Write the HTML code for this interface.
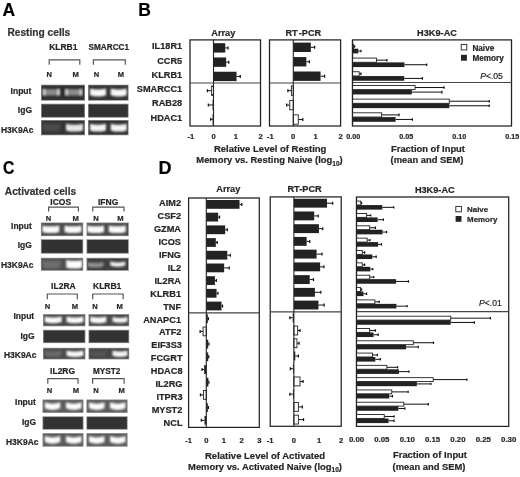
<!DOCTYPE html>
<html><head><meta charset="utf-8"><style>
html,body{margin:0;padding:0;background:#fff;}
svg{display:block;font-family:"Liberation Sans", sans-serif;}
text{stroke-width:0.2px;}
</style></head><body>
<svg width="520" height="477" viewBox="0 0 520 477">
<rect width="520" height="477" fill="#fff"/>
<defs><filter id="bl8" x="-30%" y="-60%" width="160%" height="220%"><feGaussianBlur stdDeviation="0.8"/></filter><filter id="bl9" x="-30%" y="-60%" width="160%" height="220%"><feGaussianBlur stdDeviation="0.9"/></filter><filter id="bl10" x="-30%" y="-60%" width="160%" height="220%"><feGaussianBlur stdDeviation="1.0"/></filter><filter id="bl11" x="-30%" y="-60%" width="160%" height="220%"><feGaussianBlur stdDeviation="1.1"/></filter><filter id="bl12" x="-30%" y="-60%" width="160%" height="220%"><feGaussianBlur stdDeviation="1.2"/></filter><filter id="bl14" x="-30%" y="-60%" width="160%" height="220%"><feGaussianBlur stdDeviation="1.4"/></filter><filter id="bl15" x="-30%" y="-60%" width="160%" height="220%"><feGaussianBlur stdDeviation="1.5"/></filter><filter id="gb" filterUnits="userSpaceOnUse" x="0" y="0" width="520" height="477"><feGaussianBlur stdDeviation="0.45"/></filter></defs>
<g filter="url(#gb)">
<text x="2.6" y="15.8" font-size="17.5" font-weight="bold" text-anchor="start" fill="#000" stroke="#000">A</text>
<text x="138.2" y="15.7" font-size="17.5" font-weight="bold" text-anchor="start" fill="#000" stroke="#000">B</text>
<text x="2.9" y="174.3" font-size="17.5" font-weight="bold" text-anchor="start" fill="#000" stroke="#000" transform="translate(2.9 0) scale(0.9 1) translate(-2.9 0)">C</text>
<text x="158.5" y="174.0" font-size="18" font-weight="bold" text-anchor="start" fill="#000" stroke="#000">D</text>
<text x="7.4" y="36.0" font-size="10.2" font-weight="bold" text-anchor="start" fill="#333" stroke="#333">Resting cells</text>
<text x="63.3" y="50" font-size="8.5" font-weight="bold" text-anchor="middle" fill="#262626" stroke="#262626">KLRB1</text>
<text x="108.8" y="50" font-size="8.2" font-weight="bold" text-anchor="middle" fill="#262626" stroke="#262626">SMARCC1</text>
<path d="M49.2 64.8 V59.9 H79.8 V64.8" fill="none" stroke="#555" stroke-width="1.2"/>
<path d="M93.4 64.8 V59.9 H125.3 V64.8" fill="none" stroke="#555" stroke-width="1.2"/>
<text x="49.2" y="77.4" font-size="7.6" font-weight="bold" text-anchor="middle" fill="#262626" stroke="#262626">N</text>
<text x="75.7" y="77.4" font-size="7.6" font-weight="bold" text-anchor="middle" fill="#262626" stroke="#262626">M</text>
<text x="96.5" y="77.4" font-size="7.6" font-weight="bold" text-anchor="middle" fill="#262626" stroke="#262626">N</text>
<text x="121" y="77.4" font-size="7.6" font-weight="bold" text-anchor="middle" fill="#262626" stroke="#262626">M</text>
<text x="31.4" y="94" font-size="8.5" font-weight="bold" text-anchor="end" fill="#262626" stroke="#262626">Input</text>
<text x="32" y="113" font-size="8.5" font-weight="bold" text-anchor="end" fill="#262626" stroke="#262626">IgG</text>
<text x="33.5" y="133.0" font-size="8.5" font-weight="bold" text-anchor="end" fill="#262626" stroke="#262626">H3K9Ac</text>
<rect x="41.00" y="84.70" width="44.00" height="16.00" fill="#8a8a8a"/>
<clipPath id="g1"><rect x="41.80" y="85.50" width="42.40" height="14.40"/></clipPath>
<rect x="41.80" y="85.50" width="42.40" height="14.40" fill="#2e2e2e"/>
<g clip-path="url(#g1)">
<path d="M42.8 89.0 Q51.3 89.3 59.8 89.0 L59.8 95.4 Q51.3 95.8 42.8 95.4 Z" fill="#8c8c8c" opacity="1" filter="url(#bl8)"/>
<path d="M65.3 89.0 Q73.8 89.3 82.3 89.0 L82.3 95.4 Q73.8 95.8 65.3 95.4 Z" fill="#8c8c8c" opacity="1" filter="url(#bl8)"/>
<path d="M42.9 89.3 Q44.2 89.3 45.5 89.3 L45.5 95.3 Q44.2 95.3 42.9 95.3 Z" fill="#cfcfcf" opacity="1" filter="url(#bl9)"/>
<path d="M57.1 89.3 Q58.4 89.3 59.7 89.3 L59.7 95.3 Q58.4 95.3 57.1 95.3 Z" fill="#cfcfcf" opacity="1" filter="url(#bl9)"/>
<path d="M65.3 89.3 Q66.6 89.3 67.9 89.3 L67.9 95.3 Q66.6 95.3 65.3 95.3 Z" fill="#cfcfcf" opacity="1" filter="url(#bl9)"/>
<path d="M79.5 89.3 Q80.8 89.3 82.1 89.3 L82.1 95.3 Q80.8 95.3 79.5 95.3 Z" fill="#cfcfcf" opacity="1" filter="url(#bl9)"/>
</g>
<rect x="88.00" y="84.70" width="40.60" height="16.00" fill="#8a8a8a"/>
<clipPath id="g2"><rect x="88.80" y="85.50" width="39.00" height="14.40"/></clipPath>
<rect x="88.80" y="85.50" width="39.00" height="14.40" fill="#333333"/>
<g clip-path="url(#g2)">
<path d="M90.0 88.6 Q98.0 90.6 106.0 88.6 L106.0 95.2 Q98.0 97.6 90.0 95.2 Z" fill="#f8f8f8" opacity="1.0" filter="url(#bl10)"/>
<path d="M110.7 88.6 Q118.7 90.6 126.7 88.6 L126.7 95.2 Q118.7 97.6 110.7 95.2 Z" fill="#f8f8f8" opacity="1.0" filter="url(#bl10)"/>
</g>
<rect x="41.00" y="103.70" width="44.00" height="14.00" fill="#8a8a8a"/>
<clipPath id="g3"><rect x="41.80" y="104.50" width="42.40" height="12.40"/></clipPath>
<rect x="41.80" y="104.50" width="42.40" height="12.40" fill="#323232"/>
<g clip-path="url(#g3)">
</g>
<rect x="88.00" y="103.70" width="40.60" height="14.00" fill="#8a8a8a"/>
<clipPath id="g4"><rect x="88.80" y="104.50" width="39.00" height="12.40"/></clipPath>
<rect x="88.80" y="104.50" width="39.00" height="12.40" fill="#323232"/>
<g clip-path="url(#g4)">
</g>
<rect x="41.00" y="120.00" width="44.00" height="15.30" fill="#8a8a8a"/>
<clipPath id="g5"><rect x="41.80" y="120.80" width="42.40" height="13.70"/></clipPath>
<rect x="41.80" y="120.80" width="42.40" height="13.70" fill="#333333"/>
<g clip-path="url(#g5)">
<path d="M42.3 123.0 Q51.3 125.0 60.3 123.0 L60.3 130.6 Q51.3 133.0 42.3 130.6 Z" fill="#4c4c4c" opacity="1.0" filter="url(#bl15)"/>
<path d="M66.0 123.8 Q74.5 125.8 83.0 123.8 L83.0 130.4 Q74.5 132.8 66.0 130.4 Z" fill="#e8e8e8" opacity="1.0" filter="url(#bl12)"/>
</g>
<rect x="88.00" y="120.00" width="40.60" height="15.30" fill="#8a8a8a"/>
<clipPath id="g6"><rect x="88.80" y="120.80" width="39.00" height="13.70"/></clipPath>
<rect x="88.80" y="120.80" width="39.00" height="13.70" fill="#333333"/>
<g clip-path="url(#g6)">
<path d="M90.0 123.8 Q98.0 125.8 106.0 123.8 L106.0 130.4 Q98.0 132.8 90.0 130.4 Z" fill="#f4f4f4" opacity="1.0" filter="url(#bl10)"/>
<path d="M110.7 123.8 Q118.7 125.8 126.7 123.8 L126.7 130.4 Q118.7 132.8 110.7 130.4 Z" fill="#f4f4f4" opacity="1.0" filter="url(#bl10)"/>
</g>
<text x="4.8" y="194.6" font-size="10.2" font-weight="bold" text-anchor="start" fill="#333" stroke="#333">Activated cells</text>
<text x="60.7" y="205.0" font-size="8.5" font-weight="bold" text-anchor="middle" fill="#262626" stroke="#262626">ICOS</text>
<text x="108.1" y="205.0" font-size="8.5" font-weight="bold" text-anchor="middle" fill="#262626" stroke="#262626">IFNG</text>
<path d="M48.6 211.5 V207.2 H78.4 V211.5" fill="none" stroke="#555" stroke-width="1.2"/>
<path d="M92.7 211.5 V207.2 H124.0 V211.5" fill="none" stroke="#555" stroke-width="1.2"/>
<text x="48.5" y="221.3" font-size="7.6" font-weight="bold" text-anchor="middle" fill="#262626" stroke="#262626">N</text>
<text x="75.6" y="221.3" font-size="7.6" font-weight="bold" text-anchor="middle" fill="#262626" stroke="#262626">M</text>
<text x="95.9" y="221.3" font-size="7.6" font-weight="bold" text-anchor="middle" fill="#262626" stroke="#262626">N</text>
<text x="120.4" y="221.3" font-size="7.6" font-weight="bold" text-anchor="middle" fill="#262626" stroke="#262626">M</text>
<text x="31.8" y="228.6" font-size="8.5" font-weight="bold" text-anchor="end" fill="#262626" stroke="#262626">Input</text>
<text x="31.8" y="248.3" font-size="8.5" font-weight="bold" text-anchor="end" fill="#262626" stroke="#262626">IgG</text>
<text x="33.5" y="268.3" font-size="8.5" font-weight="bold" text-anchor="end" fill="#262626" stroke="#262626">H3K9Ac</text>
<rect x="40.90" y="222.50" width="42.30" height="13.60" fill="#8a8a8a"/>
<clipPath id="g7"><rect x="41.70" y="223.30" width="40.70" height="12.00"/></clipPath>
<rect x="41.70" y="223.30" width="40.70" height="12.00" fill="#4a4a4a"/>
<g clip-path="url(#g7)">
<path d="M42.3 225.4 Q50.8 227.3 59.3 225.4 L59.3 231.9 Q50.8 234.3 42.3 231.9 Z" fill="#fafafa" opacity="1.0" filter="url(#bl10)"/>
<path d="M64.5 225.4 Q73.0 227.3 81.5 225.4 L81.5 231.9 Q73.0 234.3 64.5 231.9 Z" fill="#fafafa" opacity="1.0" filter="url(#bl10)"/>
</g>
<rect x="86.50" y="222.50" width="42.30" height="13.60" fill="#8a8a8a"/>
<clipPath id="g8"><rect x="87.30" y="223.30" width="40.70" height="12.00"/></clipPath>
<rect x="87.30" y="223.30" width="40.70" height="12.00" fill="#4a4a4a"/>
<g clip-path="url(#g8)">
<path d="M87.0 225.4 Q95.5 227.3 104.0 225.4 L104.0 231.9 Q95.5 234.3 87.0 231.9 Z" fill="#fafafa" opacity="1.0" filter="url(#bl10)"/>
<path d="M108.8 225.4 Q117.3 227.3 125.8 225.4 L125.8 231.9 Q117.3 234.3 108.8 231.9 Z" fill="#fafafa" opacity="1.0" filter="url(#bl10)"/>
</g>
<rect x="40.90" y="239.20" width="42.30" height="14.50" fill="#8a8a8a"/>
<clipPath id="g9"><rect x="41.70" y="240.00" width="40.70" height="12.90"/></clipPath>
<rect x="41.70" y="240.00" width="40.70" height="12.90" fill="#333333"/>
<g clip-path="url(#g9)">
</g>
<rect x="86.50" y="239.20" width="42.30" height="14.50" fill="#8a8a8a"/>
<clipPath id="g10"><rect x="87.30" y="240.00" width="40.70" height="12.90"/></clipPath>
<rect x="87.30" y="240.00" width="40.70" height="12.90" fill="#333333"/>
<g clip-path="url(#g10)">
</g>
<rect x="40.90" y="257.80" width="42.30" height="13.00" fill="#8a8a8a"/>
<clipPath id="g11"><rect x="41.70" y="258.60" width="40.70" height="11.40"/></clipPath>
<rect x="41.70" y="258.60" width="40.70" height="11.40" fill="#4e4e4e"/>
<g clip-path="url(#g11)">
<path d="M42.5 259.9 Q51.5 261.8 60.5 259.9 L60.5 267.4 Q51.5 269.8 42.5 267.4 Z" fill="#6e6e6e" opacity="1.0" filter="url(#bl15)"/>
<path d="M66.2 259.9 Q74.2 261.8 82.2 259.9 L82.2 267.4 Q74.2 269.8 66.2 267.4 Z" fill="#fcfcfc" opacity="1.0" filter="url(#bl11)"/>
</g>
<rect x="86.50" y="257.80" width="42.30" height="13.00" fill="#8a8a8a"/>
<clipPath id="g12"><rect x="87.30" y="258.60" width="40.70" height="11.40"/></clipPath>
<rect x="87.30" y="258.60" width="40.70" height="11.40" fill="#404040"/>
<g clip-path="url(#g12)">
<path d="M87.5 261.9 Q95.5 263.8 103.5 261.9 L103.5 266.4 Q95.5 268.8 87.5 266.4 Z" fill="#8e8e8e" opacity="1.0" filter="url(#bl10)"/>
<path d="M110.3 261.4 Q117.8 263.4 125.3 261.4 L125.3 265.6 Q117.8 268.0 110.3 265.6 Z" fill="#f2f2f2" opacity="1.0" filter="url(#bl10)"/>
</g>
<text x="63.4" y="288.6" font-size="8.5" font-weight="bold" text-anchor="middle" fill="#262626" stroke="#262626">IL2RA</text>
<text x="107.2" y="288.6" font-size="8.5" font-weight="bold" text-anchor="middle" fill="#262626" stroke="#262626">KLRB1</text>
<path d="M47.3 299.2 V294 H77.3 V299.2" fill="none" stroke="#555" stroke-width="1.2"/>
<path d="M92.7 299.2 V294 H123.1 V299.2" fill="none" stroke="#555" stroke-width="1.2"/>
<text x="47.5" y="309.0" font-size="7.6" font-weight="bold" text-anchor="middle" fill="#262626" stroke="#262626">N</text>
<text x="74.9" y="309.0" font-size="7.6" font-weight="bold" text-anchor="middle" fill="#262626" stroke="#262626">M</text>
<text x="95.1" y="309.0" font-size="7.6" font-weight="bold" text-anchor="middle" fill="#262626" stroke="#262626">N</text>
<text x="119.6" y="309.0" font-size="7.6" font-weight="bold" text-anchor="middle" fill="#262626" stroke="#262626">M</text>
<text x="34.2" y="319.2" font-size="8.5" font-weight="bold" text-anchor="end" fill="#262626" stroke="#262626">Input</text>
<text x="34.6" y="338.6" font-size="8.5" font-weight="bold" text-anchor="end" fill="#262626" stroke="#262626">IgG</text>
<text x="36.5" y="357.8" font-size="8.5" font-weight="bold" text-anchor="end" fill="#262626" stroke="#262626">H3K9Ac</text>
<rect x="43.00" y="314.10" width="42.40" height="12.20" fill="#8a8a8a"/>
<clipPath id="g13"><rect x="43.80" y="314.90" width="40.80" height="10.60"/></clipPath>
<rect x="43.80" y="314.90" width="40.80" height="10.60" fill="#4a4a4a"/>
<g clip-path="url(#g13)">
<path d="M44.7 316.6 Q53.2 318.5 61.7 316.6 L61.7 322.1 Q53.2 324.5 44.7 322.1 Z" fill="#fafafa" opacity="1.0" filter="url(#bl10)"/>
<path d="M66.5 316.6 Q75.0 318.5 83.5 316.6 L83.5 322.1 Q75.0 324.5 66.5 322.1 Z" fill="#fafafa" opacity="1.0" filter="url(#bl10)"/>
</g>
<rect x="88.50" y="314.10" width="40.70" height="12.20" fill="#8a8a8a"/>
<clipPath id="g14"><rect x="89.30" y="314.90" width="39.10" height="10.60"/></clipPath>
<rect x="89.30" y="314.90" width="39.10" height="10.60" fill="#4a4a4a"/>
<g clip-path="url(#g14)">
<path d="M90.3 316.6 Q98.3 318.5 106.3 316.6 L106.3 322.1 Q98.3 324.5 90.3 322.1 Z" fill="#fafafa" opacity="1.0" filter="url(#bl10)"/>
<path d="M112.5 317.1 Q120.0 319.0 127.5 317.1 L127.5 321.6 Q120.0 324.0 112.5 321.6 Z" fill="#f6f6f6" opacity="1.0" filter="url(#bl10)"/>
</g>
<rect x="43.00" y="329.80" width="42.40" height="13.30" fill="#8a8a8a"/>
<clipPath id="g15"><rect x="43.80" y="330.60" width="40.80" height="11.70"/></clipPath>
<rect x="43.80" y="330.60" width="40.80" height="11.70" fill="#333333"/>
<g clip-path="url(#g15)">
</g>
<rect x="88.50" y="329.80" width="40.70" height="13.30" fill="#8a8a8a"/>
<clipPath id="g16"><rect x="89.30" y="330.60" width="39.10" height="11.70"/></clipPath>
<rect x="89.30" y="330.60" width="39.10" height="11.70" fill="#333333"/>
<g clip-path="url(#g16)">
</g>
<rect x="43.00" y="347.80" width="42.40" height="11.60" fill="#8a8a8a"/>
<clipPath id="g17"><rect x="43.80" y="348.60" width="40.80" height="10.00"/></clipPath>
<rect x="43.80" y="348.60" width="40.80" height="10.00" fill="#484848"/>
<g clip-path="url(#g17)">
<path d="M44.7 350.2 Q53.2 352.1 61.7 350.2 L61.7 355.7 Q53.2 358.1 44.7 355.7 Z" fill="#6a6a6a" opacity="1.0" filter="url(#bl14)"/>
<path d="M66.5 350.6 Q75.0 352.6 83.5 350.6 L83.5 355.7 Q75.0 358.1 66.5 355.7 Z" fill="#f6f6f6" opacity="1.0" filter="url(#bl10)"/>
</g>
<rect x="88.50" y="347.80" width="40.70" height="11.60" fill="#8a8a8a"/>
<clipPath id="g18"><rect x="89.30" y="348.60" width="39.10" height="10.00"/></clipPath>
<rect x="89.30" y="348.60" width="39.10" height="10.00" fill="#444444"/>
<g clip-path="url(#g18)">
<path d="M90.3 350.2 Q98.3 352.1 106.3 350.2 L106.3 355.7 Q98.3 358.1 90.3 355.7 Z" fill="#555555" opacity="1.0" filter="url(#bl14)"/>
<path d="M112.5 350.6 Q120.0 352.6 127.5 350.6 L127.5 355.7 Q120.0 358.1 112.5 355.7 Z" fill="#f6f6f6" opacity="1.0" filter="url(#bl10)"/>
</g>
<text x="62.6" y="374.2" font-size="8.5" font-weight="bold" text-anchor="middle" fill="#262626" stroke="#262626">IL2RG</text>
<text x="106.7" y="374.2" font-size="8.2" font-weight="bold" text-anchor="middle" fill="#262626" stroke="#262626">MYST2</text>
<path d="M47.8 383.8 V378.7 H78.0 V383.8" fill="none" stroke="#555" stroke-width="1.2"/>
<path d="M92.6 383.8 V378.7 H124.1 V383.8" fill="none" stroke="#555" stroke-width="1.2"/>
<text x="49.4" y="393.1" font-size="7.6" font-weight="bold" text-anchor="middle" fill="#262626" stroke="#262626">N</text>
<text x="75.9" y="393.1" font-size="7.6" font-weight="bold" text-anchor="middle" fill="#262626" stroke="#262626">M</text>
<text x="96.1" y="393.1" font-size="7.6" font-weight="bold" text-anchor="middle" fill="#262626" stroke="#262626">N</text>
<text x="121.6" y="393.1" font-size="7.6" font-weight="bold" text-anchor="middle" fill="#262626" stroke="#262626">M</text>
<text x="35.8" y="404.8" font-size="8.5" font-weight="bold" text-anchor="end" fill="#262626" stroke="#262626">Input</text>
<text x="36.1" y="425.4" font-size="8.5" font-weight="bold" text-anchor="end" fill="#262626" stroke="#262626">IgG</text>
<text x="38.6" y="444.9" font-size="8.5" font-weight="bold" text-anchor="end" fill="#262626" stroke="#262626">H3K9Ac</text>
<rect x="42.50" y="399.50" width="41.00" height="13.40" fill="#8a8a8a"/>
<clipPath id="g19"><rect x="43.30" y="400.30" width="39.40" height="11.80"/></clipPath>
<rect x="43.30" y="400.30" width="39.40" height="11.80" fill="#5c5c5c"/>
<g clip-path="url(#g19)">
<path d="M44.8 402.2 Q52.5 405.1 60.2 402.2 L60.2 408.2 Q52.5 411.7 44.8 408.2 Z" fill="#fcfcfc" opacity="1" filter="url(#bl9)"/>
<path d="M66.0 402.2 Q73.8 405.1 81.5 402.2 L81.5 408.2 Q73.8 411.7 66.0 408.2 Z" fill="#fcfcfc" opacity="1" filter="url(#bl9)"/>
</g>
<rect x="86.40" y="399.50" width="41.20" height="13.40" fill="#8a8a8a"/>
<clipPath id="g20"><rect x="87.20" y="400.30" width="39.60" height="11.80"/></clipPath>
<rect x="87.20" y="400.30" width="39.60" height="11.80" fill="#5c5c5c"/>
<g clip-path="url(#g20)">
<path d="M89.0 402.2 Q96.8 405.1 104.5 402.2 L104.5 408.2 Q96.8 411.7 89.0 408.2 Z" fill="#fcfcfc" opacity="1" filter="url(#bl9)"/>
<path d="M110.0 402.2 Q117.8 405.1 125.5 402.2 L125.5 408.2 Q117.8 411.7 110.0 408.2 Z" fill="#fcfcfc" opacity="1" filter="url(#bl9)"/>
</g>
<rect x="42.50" y="416.30" width="41.00" height="13.40" fill="#8a8a8a"/>
<clipPath id="g21"><rect x="43.30" y="417.10" width="39.40" height="11.80"/></clipPath>
<rect x="43.30" y="417.10" width="39.40" height="11.80" fill="#303030"/>
<g clip-path="url(#g21)">
</g>
<rect x="86.40" y="416.30" width="41.20" height="13.40" fill="#8a8a8a"/>
<clipPath id="g22"><rect x="87.20" y="417.10" width="39.60" height="11.80"/></clipPath>
<rect x="87.20" y="417.10" width="39.60" height="11.80" fill="#303030"/>
<g clip-path="url(#g22)">
</g>
<rect x="42.50" y="433.10" width="41.00" height="13.60" fill="#8a8a8a"/>
<clipPath id="g23"><rect x="43.30" y="433.90" width="39.40" height="12.00"/></clipPath>
<rect x="43.30" y="433.90" width="39.40" height="12.00" fill="#5c5c5c"/>
<g clip-path="url(#g23)">
<path d="M44.8 436.0 Q52.5 438.9 60.2 436.0 L60.2 442.0 Q52.5 445.5 44.8 442.0 Z" fill="#fcfcfc" opacity="1" filter="url(#bl9)"/>
<path d="M66.0 436.0 Q73.8 438.9 81.5 436.0 L81.5 442.0 Q73.8 445.5 66.0 442.0 Z" fill="#fcfcfc" opacity="1" filter="url(#bl9)"/>
</g>
<rect x="86.40" y="433.10" width="41.20" height="13.60" fill="#8a8a8a"/>
<clipPath id="g24"><rect x="87.20" y="433.90" width="39.60" height="12.00"/></clipPath>
<rect x="87.20" y="433.90" width="39.60" height="12.00" fill="#5c5c5c"/>
<g clip-path="url(#g24)">
<path d="M89.0 436.0 Q96.8 438.9 104.5 436.0 L104.5 442.0 Q96.8 445.5 89.0 442.0 Z" fill="#fcfcfc" opacity="1" filter="url(#bl9)"/>
<path d="M110.0 436.0 Q117.8 438.9 125.5 436.0 L125.5 442.0 Q117.8 445.5 110.0 442.0 Z" fill="#fcfcfc" opacity="1" filter="url(#bl9)"/>
</g>
<text x="182.2" y="49.3" font-size="9.2" font-weight="bold" text-anchor="end" fill="#262626" stroke="#262626">IL18R1</text>
<text x="182.2" y="63.57" font-size="9.2" font-weight="bold" text-anchor="end" fill="#262626" stroke="#262626">CCR5</text>
<text x="182.2" y="77.84" font-size="9.2" font-weight="bold" text-anchor="end" fill="#262626" stroke="#262626">KLRB1</text>
<text x="182.2" y="92.11000000000001" font-size="9.2" font-weight="bold" text-anchor="end" fill="#262626" stroke="#262626">SMARCC1</text>
<text x="182.2" y="106.38" font-size="9.2" font-weight="bold" text-anchor="end" fill="#262626" stroke="#262626">RAB28</text>
<text x="182.2" y="120.65" font-size="9.2" font-weight="bold" text-anchor="end" fill="#262626" stroke="#262626">HDAC1</text>
<rect x="190.00" y="39.90" width="70.50" height="86.10" fill="none" stroke="#222" stroke-width="1.25"/>
<line x1="190.00" y1="83.00" x2="260.50" y2="83.00" stroke="#444" stroke-width="1.2"/>
<line x1="225.25" y1="47.90" x2="228.07" y2="47.90" stroke="#111" stroke-width="1.0"/>
<line x1="228.07" y1="46.40" x2="228.07" y2="49.40" stroke="#111" stroke-width="1.2"/>
<rect x="213.50" y="43.20" width="11.75" height="9.40" fill="#232323"/>
<line x1="226.19" y1="62.17" x2="228.78" y2="62.17" stroke="#111" stroke-width="1.0"/>
<line x1="228.78" y1="60.67" x2="228.78" y2="63.67" stroke="#111" stroke-width="1.2"/>
<rect x="213.50" y="57.47" width="12.69" height="9.40" fill="#232323"/>
<line x1="236.53" y1="76.44" x2="240.29" y2="76.44" stroke="#111" stroke-width="1.0"/>
<line x1="240.29" y1="74.94" x2="240.29" y2="77.94" stroke="#111" stroke-width="1.2"/>
<rect x="213.50" y="71.74" width="23.03" height="9.40" fill="#232323"/>
<line x1="211.62" y1="90.71" x2="207.39" y2="90.71" stroke="#111" stroke-width="1.0"/>
<line x1="207.39" y1="89.21" x2="207.39" y2="92.21" stroke="#111" stroke-width="1.2"/>
<rect x="211.62" y="86.01" width="1.88" height="9.40" fill="#fff" stroke="#222" stroke-width="0.9"/>
<line x1="213.03" y1="104.98" x2="208.33" y2="104.98" stroke="#111" stroke-width="1.0"/>
<line x1="208.33" y1="103.48" x2="208.33" y2="106.48" stroke="#111" stroke-width="1.2"/>
<rect x="213.03" y="100.28" width="0.47" height="9.40" fill="#fff" stroke="#222" stroke-width="0.9"/>
<line x1="213.03" y1="119.25" x2="210.68" y2="119.25" stroke="#111" stroke-width="1.0"/>
<line x1="210.68" y1="117.75" x2="210.68" y2="120.75" stroke="#111" stroke-width="1.2"/>
<rect x="213.03" y="114.55" width="0.47" height="9.40" fill="#fff" stroke="#222" stroke-width="0.9"/>
<line x1="213.50" y1="39.90" x2="213.50" y2="126.00" stroke="#222" stroke-width="1.1"/>
<rect x="269.50" y="39.90" width="71.10" height="86.10" fill="none" stroke="#222" stroke-width="1.25"/>
<line x1="269.50" y1="83.00" x2="340.60" y2="83.00" stroke="#444" stroke-width="1.2"/>
<line x1="310.84" y1="47.30" x2="314.63" y2="47.30" stroke="#111" stroke-width="1.0"/>
<line x1="314.63" y1="45.80" x2="314.63" y2="48.80" stroke="#111" stroke-width="1.2"/>
<rect x="293.30" y="42.60" width="17.54" height="9.40" fill="#232323"/>
<line x1="306.34" y1="61.75" x2="309.42" y2="61.75" stroke="#111" stroke-width="1.0"/>
<line x1="309.42" y1="60.25" x2="309.42" y2="63.25" stroke="#111" stroke-width="1.2"/>
<rect x="293.30" y="57.05" width="13.04" height="9.40" fill="#232323"/>
<line x1="320.56" y1="76.20" x2="324.58" y2="76.20" stroke="#111" stroke-width="1.0"/>
<line x1="324.58" y1="74.70" x2="324.58" y2="77.70" stroke="#111" stroke-width="1.2"/>
<rect x="293.30" y="71.50" width="27.25" height="9.40" fill="#232323"/>
<line x1="291.40" y1="90.65" x2="287.85" y2="90.65" stroke="#111" stroke-width="1.0"/>
<line x1="287.85" y1="89.15" x2="287.85" y2="92.15" stroke="#111" stroke-width="1.2"/>
<rect x="291.40" y="85.95" width="1.90" height="9.40" fill="#fff" stroke="#222" stroke-width="0.9"/>
<line x1="289.75" y1="105.10" x2="286.66" y2="105.10" stroke="#111" stroke-width="1.0"/>
<line x1="286.66" y1="103.60" x2="286.66" y2="106.60" stroke="#111" stroke-width="1.2"/>
<rect x="289.75" y="100.40" width="3.56" height="9.40" fill="#fff" stroke="#222" stroke-width="0.9"/>
<line x1="298.28" y1="119.55" x2="302.78" y2="119.55" stroke="#111" stroke-width="1.0"/>
<line x1="302.78" y1="118.05" x2="302.78" y2="121.05" stroke="#111" stroke-width="1.2"/>
<rect x="293.30" y="114.85" width="4.98" height="9.40" fill="#fff" stroke="#222" stroke-width="0.9"/>
<line x1="293.30" y1="39.90" x2="293.30" y2="126.00" stroke="#222" stroke-width="1.1"/>
<rect x="352.50" y="39.90" width="159.00" height="86.10" fill="none" stroke="#222" stroke-width="1.25"/>
<line x1="352.50" y1="82.50" x2="511.50" y2="82.50" stroke="#444" stroke-width="1.2"/>
<line x1="353.56" y1="46.50" x2="354.62" y2="46.50" stroke="#111" stroke-width="1.0"/>
<line x1="354.62" y1="45.20" x2="354.62" y2="47.80" stroke="#111" stroke-width="1.2"/>
<rect x="352.50" y="44.40" width="1.06" height="4.20" fill="#fff" stroke="#222" stroke-width="0.9"/>
<line x1="358.33" y1="51.05" x2="360.98" y2="51.05" stroke="#111" stroke-width="1.0"/>
<line x1="360.98" y1="49.75" x2="360.98" y2="52.35" stroke="#111" stroke-width="1.2"/>
<rect x="352.50" y="48.70" width="5.83" height="4.70" fill="#232323"/>
<line x1="376.46" y1="60.18" x2="386.95" y2="60.18" stroke="#111" stroke-width="1.0"/>
<line x1="386.95" y1="58.88" x2="386.95" y2="61.48" stroke="#111" stroke-width="1.2"/>
<rect x="352.50" y="58.08" width="23.96" height="4.20" fill="#fff" stroke="#222" stroke-width="0.9"/>
<line x1="404.44" y1="64.73" x2="426.70" y2="64.73" stroke="#111" stroke-width="1.0"/>
<line x1="426.70" y1="63.43" x2="426.70" y2="66.03" stroke="#111" stroke-width="1.2"/>
<rect x="352.50" y="62.38" width="51.94" height="4.70" fill="#232323"/>
<line x1="359.18" y1="73.86" x2="360.98" y2="73.86" stroke="#111" stroke-width="1.0"/>
<line x1="360.98" y1="72.56" x2="360.98" y2="75.16" stroke="#111" stroke-width="1.2"/>
<rect x="352.50" y="71.76" width="6.68" height="4.20" fill="#fff" stroke="#222" stroke-width="0.9"/>
<line x1="404.23" y1="78.41" x2="422.46" y2="78.41" stroke="#111" stroke-width="1.0"/>
<line x1="422.46" y1="77.11" x2="422.46" y2="79.71" stroke="#111" stroke-width="1.2"/>
<rect x="352.50" y="76.06" width="51.73" height="4.70" fill="#232323"/>
<line x1="415.04" y1="87.54" x2="444.08" y2="87.54" stroke="#111" stroke-width="1.0"/>
<line x1="444.08" y1="86.24" x2="444.08" y2="88.84" stroke="#111" stroke-width="1.2"/>
<rect x="352.50" y="85.44" width="62.54" height="4.20" fill="#fff" stroke="#222" stroke-width="0.9"/>
<line x1="411.86" y1="92.09" x2="441.96" y2="92.09" stroke="#111" stroke-width="1.0"/>
<line x1="441.96" y1="90.79" x2="441.96" y2="93.39" stroke="#111" stroke-width="1.2"/>
<rect x="352.50" y="89.74" width="59.36" height="4.70" fill="#232323"/>
<line x1="449.28" y1="101.22" x2="489.24" y2="101.22" stroke="#111" stroke-width="1.0"/>
<line x1="489.24" y1="99.92" x2="489.24" y2="102.52" stroke="#111" stroke-width="1.2"/>
<rect x="352.50" y="99.12" width="96.78" height="4.20" fill="#fff" stroke="#222" stroke-width="0.9"/>
<line x1="449.28" y1="105.77" x2="489.24" y2="105.77" stroke="#111" stroke-width="1.0"/>
<line x1="489.24" y1="104.47" x2="489.24" y2="107.07" stroke="#111" stroke-width="1.2"/>
<rect x="352.50" y="103.42" width="96.78" height="4.70" fill="#232323"/>
<line x1="381.65" y1="114.90" x2="399.03" y2="114.90" stroke="#111" stroke-width="1.0"/>
<line x1="399.03" y1="113.60" x2="399.03" y2="116.20" stroke="#111" stroke-width="1.2"/>
<rect x="352.50" y="112.80" width="29.15" height="4.20" fill="#fff" stroke="#222" stroke-width="0.9"/>
<line x1="395.64" y1="119.45" x2="412.39" y2="119.45" stroke="#111" stroke-width="1.0"/>
<line x1="412.39" y1="118.15" x2="412.39" y2="120.75" stroke="#111" stroke-width="1.2"/>
<rect x="352.50" y="117.10" width="43.14" height="4.70" fill="#232323"/>
<line x1="352.50" y1="39.90" x2="352.50" y2="126.00" stroke="#222" stroke-width="1.1"/>
<rect x="461.20" y="44.40" width="5.60" height="5.60" fill="#fff" stroke="#222" stroke-width="0.9"/>
<rect x="461.00" y="54.80" width="5.90" height="5.90" fill="#222"/>
<text x="472.4" y="50.9" font-size="8.2" font-weight="bold" text-anchor="start" fill="#262626" stroke="#262626">Naive</text>
<text x="472.4" y="60.6" font-size="8.2" font-weight="bold" text-anchor="start" fill="#262626" stroke="#262626">Memory</text>
<text x="480.2" y="79.0" font-size="8.6" font-weight="normal" text-anchor="start" fill="#262626" stroke="#262626"><tspan font-style="italic">P</tspan>&lt;.05</text>
<text x="223.3" y="36.3" font-size="9.2" font-weight="bold" text-anchor="middle" fill="#262626" stroke="#262626">Array</text>
<text x="285.4" y="36.0" font-size="9.2" font-weight="bold" text-anchor="start" fill="#262626" stroke="#262626">RT<tspan dx="1.6">-PCR</tspan></text>
<text x="437.0" y="35.8" font-size="9.2" font-weight="bold" text-anchor="middle" fill="#262626" stroke="#262626">H3K9-AC</text>
<text x="190.8" y="139.3" font-size="7.6" font-weight="bold" text-anchor="middle" fill="#262626" stroke="#262626">-1</text>
<text x="270.3" y="139.3" font-size="7.6" font-weight="bold" text-anchor="middle" fill="#262626" stroke="#262626">-1</text>
<text x="213.5" y="139.3" font-size="7.6" font-weight="bold" text-anchor="middle" fill="#262626" stroke="#262626">0</text>
<text x="293.2" y="139.3" font-size="7.6" font-weight="bold" text-anchor="middle" fill="#262626" stroke="#262626">0</text>
<text x="235.8" y="139.3" font-size="7.6" font-weight="bold" text-anchor="middle" fill="#262626" stroke="#262626">1</text>
<text x="315.70000000000005" y="139.3" font-size="7.6" font-weight="bold" text-anchor="middle" fill="#262626" stroke="#262626">1</text>
<text x="260.5" y="139.3" font-size="7.6" font-weight="bold" text-anchor="middle" fill="#262626" stroke="#262626">2</text>
<text x="340.6" y="139.3" font-size="7.6" font-weight="bold" text-anchor="middle" fill="#262626" stroke="#262626">2</text>
<text x="353.3" y="139.3" font-size="7.2" font-weight="bold" text-anchor="middle" fill="#262626" stroke="#262626">0.00</text>
<text x="406.3" y="139.3" font-size="7.2" font-weight="bold" text-anchor="middle" fill="#262626" stroke="#262626">0.05</text>
<text x="459.3" y="139.3" font-size="7.2" font-weight="bold" text-anchor="middle" fill="#262626" stroke="#262626">0.10</text>
<text x="512.3000000000001" y="139.3" font-size="7.2" font-weight="bold" text-anchor="middle" fill="#262626" stroke="#262626">0.15</text>
<text x="270.2" y="152.1" font-size="9.5" font-weight="bold" text-anchor="middle" fill="#262626" stroke="#262626">Relative Level of Resting</text>
<text x="269.5" y="163.4" font-size="9.4" font-weight="bold" text-anchor="middle" fill="#262626" stroke="#262626">Memory vs. Resting Naive (log<tspan font-size="6.5" dy="2.5">10</tspan><tspan dy="-2.5">)</tspan></text>
<text x="428.0" y="152.0" font-size="9.4" font-weight="bold" text-anchor="middle" fill="#262626" stroke="#262626">Fraction of Input</text>
<text x="427.0" y="163.4" font-size="9.4" font-weight="bold" text-anchor="middle" fill="#262626" stroke="#262626">(mean and SEM)</text>
<text x="181.0" y="206.4" font-size="9.2" font-weight="bold" text-anchor="end" fill="#262626" stroke="#262626">AIM2</text>
<text x="181.0" y="219.3" font-size="9.2" font-weight="bold" text-anchor="end" fill="#262626" stroke="#262626">CSF2</text>
<text x="181.0" y="232.20000000000002" font-size="9.2" font-weight="bold" text-anchor="end" fill="#262626" stroke="#262626">GZMA</text>
<text x="181.0" y="245.10000000000002" font-size="9.2" font-weight="bold" text-anchor="end" fill="#262626" stroke="#262626">ICOS</text>
<text x="181.0" y="258.0" font-size="9.2" font-weight="bold" text-anchor="end" fill="#262626" stroke="#262626">IFNG</text>
<text x="181.0" y="270.9" font-size="9.2" font-weight="bold" text-anchor="end" fill="#262626" stroke="#262626">IL2</text>
<text x="181.0" y="283.8" font-size="9.2" font-weight="bold" text-anchor="end" fill="#262626" stroke="#262626">IL2RA</text>
<text x="181.0" y="296.7" font-size="9.2" font-weight="bold" text-anchor="end" fill="#262626" stroke="#262626">KLRB1</text>
<text x="181.0" y="309.6" font-size="9.2" font-weight="bold" text-anchor="end" fill="#262626" stroke="#262626">TNF</text>
<text x="181.0" y="322.5" font-size="9.2" font-weight="bold" text-anchor="end" fill="#262626" stroke="#262626">ANAPC1</text>
<text x="181.4" y="335.4" font-size="9.2" font-weight="bold" text-anchor="end" fill="#262626" stroke="#262626">ATF2</text>
<text x="181.9" y="348.3" font-size="9.2" font-weight="bold" text-anchor="end" fill="#262626" stroke="#262626">EIF3S3</text>
<text x="182.5" y="361.20000000000005" font-size="9.2" font-weight="bold" text-anchor="end" fill="#262626" stroke="#262626">FCGRT</text>
<text x="182.5" y="374.1" font-size="9.2" font-weight="bold" text-anchor="end" fill="#262626" stroke="#262626">HDAC8</text>
<text x="182.5" y="387.0" font-size="9.2" font-weight="bold" text-anchor="end" fill="#262626" stroke="#262626">IL2RG</text>
<text x="182.5" y="399.9" font-size="9.2" font-weight="bold" text-anchor="end" fill="#262626" stroke="#262626">ITPR3</text>
<text x="182.3" y="412.8" font-size="9.2" font-weight="bold" text-anchor="end" fill="#262626" stroke="#262626">MYST2</text>
<text x="182.5" y="425.70000000000005" font-size="9.2" font-weight="bold" text-anchor="end" fill="#262626" stroke="#262626">NCL</text>
<rect x="188.60" y="198.00" width="70.70" height="229.40" fill="none" stroke="#222" stroke-width="1.25"/>
<line x1="188.60" y1="312.90" x2="259.30" y2="312.90" stroke="#444" stroke-width="1.2"/>
<line x1="239.50" y1="204.40" x2="241.80" y2="204.40" stroke="#111" stroke-width="1.0"/>
<line x1="241.80" y1="202.90" x2="241.80" y2="205.90" stroke="#111" stroke-width="1.2"/>
<rect x="206.28" y="200.00" width="33.23" height="8.80" fill="#232323"/>
<line x1="218.12" y1="217.10" x2="219.53" y2="217.10" stroke="#111" stroke-width="1.0"/>
<line x1="219.53" y1="215.60" x2="219.53" y2="218.60" stroke="#111" stroke-width="1.2"/>
<rect x="206.28" y="212.70" width="11.84" height="8.80" fill="#232323"/>
<line x1="225.19" y1="229.80" x2="227.31" y2="229.80" stroke="#111" stroke-width="1.0"/>
<line x1="227.31" y1="228.30" x2="227.31" y2="231.30" stroke="#111" stroke-width="1.2"/>
<rect x="206.28" y="225.40" width="18.91" height="8.80" fill="#232323"/>
<line x1="215.82" y1="242.50" x2="217.23" y2="242.50" stroke="#111" stroke-width="1.0"/>
<line x1="217.23" y1="241.00" x2="217.23" y2="244.00" stroke="#111" stroke-width="1.2"/>
<rect x="206.28" y="238.10" width="9.54" height="8.80" fill="#232323"/>
<line x1="227.31" y1="255.20" x2="230.31" y2="255.20" stroke="#111" stroke-width="1.0"/>
<line x1="230.31" y1="253.70" x2="230.31" y2="256.70" stroke="#111" stroke-width="1.2"/>
<rect x="206.28" y="250.80" width="21.03" height="8.80" fill="#232323"/>
<line x1="224.13" y1="267.90" x2="229.25" y2="267.90" stroke="#111" stroke-width="1.0"/>
<line x1="229.25" y1="266.40" x2="229.25" y2="269.40" stroke="#111" stroke-width="1.2"/>
<rect x="206.28" y="263.50" width="17.85" height="8.80" fill="#232323"/>
<line x1="214.94" y1="280.60" x2="216.35" y2="280.60" stroke="#111" stroke-width="1.0"/>
<line x1="216.35" y1="279.10" x2="216.35" y2="282.10" stroke="#111" stroke-width="1.2"/>
<rect x="206.28" y="276.20" width="8.66" height="8.80" fill="#232323"/>
<line x1="216.53" y1="293.30" x2="217.94" y2="293.30" stroke="#111" stroke-width="1.0"/>
<line x1="217.94" y1="291.80" x2="217.94" y2="294.80" stroke="#111" stroke-width="1.2"/>
<rect x="206.28" y="288.90" width="10.25" height="8.80" fill="#232323"/>
<line x1="221.48" y1="306.00" x2="222.54" y2="306.00" stroke="#111" stroke-width="1.0"/>
<line x1="222.54" y1="304.50" x2="222.54" y2="307.50" stroke="#111" stroke-width="1.2"/>
<rect x="206.28" y="301.60" width="15.20" height="8.80" fill="#232323"/>
<line x1="207.87" y1="318.70" x2="208.40" y2="318.70" stroke="#111" stroke-width="1.0"/>
<line x1="208.40" y1="317.20" x2="208.40" y2="320.20" stroke="#111" stroke-width="1.2"/>
<rect x="206.28" y="314.30" width="1.59" height="8.80" fill="#232323"/>
<line x1="203.09" y1="331.40" x2="200.09" y2="331.40" stroke="#111" stroke-width="1.0"/>
<line x1="200.09" y1="329.90" x2="200.09" y2="332.90" stroke="#111" stroke-width="1.2"/>
<rect x="203.09" y="327.00" width="3.18" height="8.80" fill="#fff" stroke="#222" stroke-width="0.9"/>
<line x1="208.22" y1="344.10" x2="208.93" y2="344.10" stroke="#111" stroke-width="1.0"/>
<line x1="208.93" y1="342.60" x2="208.93" y2="345.60" stroke="#111" stroke-width="1.2"/>
<rect x="206.28" y="339.70" width="1.94" height="8.80" fill="#232323"/>
<line x1="208.22" y1="356.80" x2="208.75" y2="356.80" stroke="#111" stroke-width="1.0"/>
<line x1="208.75" y1="355.30" x2="208.75" y2="358.30" stroke="#111" stroke-width="1.2"/>
<rect x="206.28" y="352.40" width="1.94" height="8.80" fill="#232323"/>
<line x1="204.15" y1="369.50" x2="202.03" y2="369.50" stroke="#111" stroke-width="1.0"/>
<line x1="202.03" y1="368.00" x2="202.03" y2="371.00" stroke="#111" stroke-width="1.2"/>
<rect x="204.15" y="365.10" width="2.12" height="8.80" fill="#232323"/>
<line x1="208.40" y1="382.20" x2="208.93" y2="382.20" stroke="#111" stroke-width="1.0"/>
<line x1="208.93" y1="380.70" x2="208.93" y2="383.70" stroke="#111" stroke-width="1.2"/>
<rect x="206.28" y="377.80" width="2.12" height="8.80" fill="#232323"/>
<line x1="203.45" y1="394.90" x2="200.44" y2="394.90" stroke="#111" stroke-width="1.0"/>
<line x1="200.44" y1="393.40" x2="200.44" y2="396.40" stroke="#111" stroke-width="1.2"/>
<rect x="203.45" y="390.50" width="2.83" height="8.80" fill="#fff" stroke="#222" stroke-width="0.9"/>
<line x1="207.87" y1="407.60" x2="208.40" y2="407.60" stroke="#111" stroke-width="1.0"/>
<line x1="208.40" y1="406.10" x2="208.40" y2="409.10" stroke="#111" stroke-width="1.2"/>
<rect x="206.28" y="403.20" width="1.59" height="8.80" fill="#232323"/>
<line x1="204.51" y1="420.30" x2="201.33" y2="420.30" stroke="#111" stroke-width="1.0"/>
<line x1="201.33" y1="418.80" x2="201.33" y2="421.80" stroke="#111" stroke-width="1.2"/>
<rect x="204.51" y="415.90" width="1.77" height="8.80" fill="#232323"/>
<line x1="206.28" y1="198.00" x2="206.28" y2="427.40" stroke="#222" stroke-width="1.1"/>
<rect x="270.20" y="196.90" width="71.00" height="229.40" fill="none" stroke="#222" stroke-width="1.25"/>
<line x1="270.20" y1="311.90" x2="341.20" y2="311.90" stroke="#444" stroke-width="1.2"/>
<line x1="327.00" y1="203.20" x2="332.68" y2="203.20" stroke="#111" stroke-width="1.0"/>
<line x1="332.68" y1="201.70" x2="332.68" y2="204.70" stroke="#111" stroke-width="1.2"/>
<rect x="293.87" y="198.75" width="33.13" height="8.90" fill="#232323"/>
<line x1="314.22" y1="215.93" x2="318.24" y2="215.93" stroke="#111" stroke-width="1.0"/>
<line x1="318.24" y1="214.43" x2="318.24" y2="217.43" stroke="#111" stroke-width="1.2"/>
<rect x="293.87" y="211.48" width="20.35" height="8.90" fill="#232323"/>
<line x1="318.95" y1="228.66" x2="322.74" y2="228.66" stroke="#111" stroke-width="1.0"/>
<line x1="322.74" y1="227.16" x2="322.74" y2="230.16" stroke="#111" stroke-width="1.2"/>
<rect x="293.87" y="224.21" width="25.09" height="8.90" fill="#232323"/>
<line x1="306.65" y1="241.39" x2="309.72" y2="241.39" stroke="#111" stroke-width="1.0"/>
<line x1="309.72" y1="239.89" x2="309.72" y2="242.89" stroke="#111" stroke-width="1.2"/>
<rect x="293.87" y="236.94" width="12.78" height="8.90" fill="#232323"/>
<line x1="316.59" y1="254.12" x2="322.03" y2="254.12" stroke="#111" stroke-width="1.0"/>
<line x1="322.03" y1="252.62" x2="322.03" y2="255.62" stroke="#111" stroke-width="1.2"/>
<rect x="293.87" y="249.67" width="22.72" height="8.90" fill="#232323"/>
<line x1="320.14" y1="266.85" x2="323.92" y2="266.85" stroke="#111" stroke-width="1.0"/>
<line x1="323.92" y1="265.35" x2="323.92" y2="268.35" stroke="#111" stroke-width="1.2"/>
<rect x="293.87" y="262.40" width="26.27" height="8.90" fill="#232323"/>
<line x1="309.72" y1="279.58" x2="313.51" y2="279.58" stroke="#111" stroke-width="1.0"/>
<line x1="313.51" y1="278.08" x2="313.51" y2="281.08" stroke="#111" stroke-width="1.2"/>
<rect x="293.87" y="275.13" width="15.86" height="8.90" fill="#232323"/>
<line x1="314.93" y1="292.31" x2="320.85" y2="292.31" stroke="#111" stroke-width="1.0"/>
<line x1="320.85" y1="290.81" x2="320.85" y2="293.81" stroke="#111" stroke-width="1.2"/>
<rect x="293.87" y="287.86" width="21.06" height="8.90" fill="#232323"/>
<line x1="318.48" y1="305.04" x2="324.16" y2="305.04" stroke="#111" stroke-width="1.0"/>
<line x1="324.16" y1="303.54" x2="324.16" y2="306.54" stroke="#111" stroke-width="1.2"/>
<rect x="293.87" y="300.59" width="24.61" height="8.90" fill="#232323"/>
<line x1="292.68" y1="317.77" x2="289.84" y2="317.77" stroke="#111" stroke-width="1.0"/>
<line x1="289.84" y1="316.27" x2="289.84" y2="319.27" stroke="#111" stroke-width="1.2"/>
<rect x="292.68" y="313.32" width="1.18" height="8.90" fill="#232323"/>
<line x1="297.65" y1="330.50" x2="300.02" y2="330.50" stroke="#111" stroke-width="1.0"/>
<line x1="300.02" y1="329.00" x2="300.02" y2="332.00" stroke="#111" stroke-width="1.2"/>
<rect x="293.87" y="326.05" width="3.79" height="8.90" fill="#fff" stroke="#222" stroke-width="0.9"/>
<line x1="296.94" y1="343.23" x2="299.07" y2="343.23" stroke="#111" stroke-width="1.0"/>
<line x1="299.07" y1="341.73" x2="299.07" y2="344.73" stroke="#111" stroke-width="1.2"/>
<rect x="293.87" y="338.78" width="3.08" height="8.90" fill="#fff" stroke="#222" stroke-width="0.9"/>
<line x1="295.29" y1="355.96" x2="298.36" y2="355.96" stroke="#111" stroke-width="1.0"/>
<line x1="298.36" y1="354.46" x2="298.36" y2="357.46" stroke="#111" stroke-width="1.2"/>
<rect x="293.87" y="351.51" width="1.42" height="8.90" fill="#232323"/>
<line x1="292.92" y1="368.69" x2="290.32" y2="368.69" stroke="#111" stroke-width="1.0"/>
<line x1="290.32" y1="367.19" x2="290.32" y2="370.19" stroke="#111" stroke-width="1.2"/>
<rect x="292.92" y="364.24" width="0.95" height="8.90" fill="#232323"/>
<line x1="300.02" y1="381.42" x2="303.10" y2="381.42" stroke="#111" stroke-width="1.0"/>
<line x1="303.10" y1="379.92" x2="303.10" y2="382.92" stroke="#111" stroke-width="1.2"/>
<rect x="293.87" y="376.97" width="6.15" height="8.90" fill="#fff" stroke="#222" stroke-width="0.9"/>
<line x1="292.92" y1="394.15" x2="289.84" y2="394.15" stroke="#111" stroke-width="1.0"/>
<line x1="289.84" y1="392.65" x2="289.84" y2="395.65" stroke="#111" stroke-width="1.2"/>
<rect x="292.92" y="389.70" width="0.95" height="8.90" fill="#232323"/>
<line x1="298.36" y1="406.88" x2="302.39" y2="406.88" stroke="#111" stroke-width="1.0"/>
<line x1="302.39" y1="405.38" x2="302.39" y2="408.38" stroke="#111" stroke-width="1.2"/>
<rect x="293.87" y="402.43" width="4.50" height="8.90" fill="#fff" stroke="#222" stroke-width="0.9"/>
<line x1="298.36" y1="419.61" x2="303.57" y2="419.61" stroke="#111" stroke-width="1.0"/>
<line x1="303.57" y1="418.11" x2="303.57" y2="421.11" stroke="#111" stroke-width="1.2"/>
<rect x="293.87" y="415.16" width="4.50" height="8.90" fill="#fff" stroke="#222" stroke-width="0.9"/>
<line x1="293.87" y1="196.90" x2="293.87" y2="426.30" stroke="#222" stroke-width="1.1"/>
<rect x="356.50" y="197.00" width="152.20" height="229.40" fill="none" stroke="#222" stroke-width="1.25"/>
<line x1="356.50" y1="311.60" x2="508.70" y2="311.60" stroke="#444" stroke-width="1.2"/>
<line x1="360.81" y1="203.05" x2="361.57" y2="203.05" stroke="#111" stroke-width="1.0"/>
<line x1="361.57" y1="201.85" x2="361.57" y2="204.25" stroke="#111" stroke-width="1.2"/>
<rect x="356.50" y="201.10" width="4.31" height="3.90" fill="#fff" stroke="#222" stroke-width="0.9"/>
<line x1="382.27" y1="207.35" x2="393.74" y2="207.35" stroke="#111" stroke-width="1.0"/>
<line x1="393.74" y1="206.15" x2="393.74" y2="208.55" stroke="#111" stroke-width="1.2"/>
<rect x="356.50" y="205.05" width="25.77" height="4.60" fill="#232323"/>
<line x1="366.60" y1="215.40" x2="370.76" y2="215.40" stroke="#111" stroke-width="1.0"/>
<line x1="370.76" y1="214.20" x2="370.76" y2="216.60" stroke="#111" stroke-width="1.2"/>
<rect x="356.50" y="213.45" width="10.10" height="3.90" fill="#fff" stroke="#222" stroke-width="0.9"/>
<line x1="377.66" y1="219.70" x2="383.44" y2="219.70" stroke="#111" stroke-width="1.0"/>
<line x1="383.44" y1="218.50" x2="383.44" y2="220.90" stroke="#111" stroke-width="1.2"/>
<rect x="356.50" y="217.40" width="21.16" height="4.60" fill="#232323"/>
<line x1="369.69" y1="227.75" x2="375.37" y2="227.75" stroke="#111" stroke-width="1.0"/>
<line x1="375.37" y1="226.55" x2="375.37" y2="228.95" stroke="#111" stroke-width="1.2"/>
<rect x="356.50" y="225.80" width="13.19" height="3.90" fill="#fff" stroke="#222" stroke-width="0.9"/>
<line x1="382.58" y1="232.05" x2="386.58" y2="232.05" stroke="#111" stroke-width="1.0"/>
<line x1="386.58" y1="230.85" x2="386.58" y2="233.25" stroke="#111" stroke-width="1.2"/>
<rect x="356.50" y="229.75" width="26.08" height="4.60" fill="#232323"/>
<line x1="367.15" y1="240.10" x2="370.00" y2="240.10" stroke="#111" stroke-width="1.0"/>
<line x1="370.00" y1="238.90" x2="370.00" y2="241.30" stroke="#111" stroke-width="1.2"/>
<rect x="356.50" y="238.15" width="10.65" height="3.90" fill="#fff" stroke="#222" stroke-width="0.9"/>
<line x1="378.16" y1="244.40" x2="381.46" y2="244.40" stroke="#111" stroke-width="1.0"/>
<line x1="381.46" y1="243.20" x2="381.46" y2="245.60" stroke="#111" stroke-width="1.2"/>
<rect x="356.50" y="242.10" width="21.66" height="4.60" fill="#232323"/>
<line x1="362.28" y1="252.45" x2="364.62" y2="252.45" stroke="#111" stroke-width="1.0"/>
<line x1="364.62" y1="251.25" x2="364.62" y2="253.65" stroke="#111" stroke-width="1.2"/>
<rect x="356.50" y="250.50" width="5.78" height="3.90" fill="#fff" stroke="#222" stroke-width="0.9"/>
<line x1="372.28" y1="256.75" x2="376.18" y2="256.75" stroke="#111" stroke-width="1.0"/>
<line x1="376.18" y1="255.55" x2="376.18" y2="257.95" stroke="#111" stroke-width="1.2"/>
<rect x="356.50" y="254.45" width="15.78" height="4.60" fill="#232323"/>
<line x1="362.28" y1="264.80" x2="364.62" y2="264.80" stroke="#111" stroke-width="1.0"/>
<line x1="364.62" y1="263.60" x2="364.62" y2="266.00" stroke="#111" stroke-width="1.2"/>
<rect x="356.50" y="262.85" width="5.78" height="3.90" fill="#fff" stroke="#222" stroke-width="0.9"/>
<line x1="370.30" y1="269.10" x2="372.73" y2="269.10" stroke="#111" stroke-width="1.0"/>
<line x1="372.73" y1="267.90" x2="372.73" y2="270.30" stroke="#111" stroke-width="1.2"/>
<rect x="356.50" y="266.80" width="13.80" height="4.60" fill="#232323"/>
<line x1="369.69" y1="277.15" x2="373.75" y2="277.15" stroke="#111" stroke-width="1.0"/>
<line x1="373.75" y1="275.95" x2="373.75" y2="278.35" stroke="#111" stroke-width="1.2"/>
<rect x="356.50" y="275.20" width="13.19" height="3.90" fill="#fff" stroke="#222" stroke-width="0.9"/>
<line x1="396.12" y1="281.45" x2="408.45" y2="281.45" stroke="#111" stroke-width="1.0"/>
<line x1="408.45" y1="280.25" x2="408.45" y2="282.65" stroke="#111" stroke-width="1.2"/>
<rect x="356.50" y="279.15" width="39.62" height="4.60" fill="#232323"/>
<line x1="360.51" y1="289.50" x2="361.57" y2="289.50" stroke="#111" stroke-width="1.0"/>
<line x1="361.57" y1="288.30" x2="361.57" y2="290.70" stroke="#111" stroke-width="1.2"/>
<rect x="356.50" y="287.55" width="4.01" height="3.90" fill="#fff" stroke="#222" stroke-width="0.9"/>
<line x1="363.50" y1="293.80" x2="366.60" y2="293.80" stroke="#111" stroke-width="1.0"/>
<line x1="366.60" y1="292.60" x2="366.60" y2="295.00" stroke="#111" stroke-width="1.2"/>
<rect x="356.50" y="291.50" width="7.00" height="4.60" fill="#232323"/>
<line x1="374.87" y1="301.85" x2="379.18" y2="301.85" stroke="#111" stroke-width="1.0"/>
<line x1="379.18" y1="300.65" x2="379.18" y2="303.05" stroke="#111" stroke-width="1.2"/>
<rect x="356.50" y="299.90" width="18.37" height="3.90" fill="#fff" stroke="#222" stroke-width="0.9"/>
<line x1="396.43" y1="306.15" x2="407.13" y2="306.15" stroke="#111" stroke-width="1.0"/>
<line x1="407.13" y1="304.95" x2="407.13" y2="307.35" stroke="#111" stroke-width="1.2"/>
<rect x="356.50" y="303.85" width="39.93" height="4.60" fill="#232323"/>
<line x1="450.76" y1="318.15" x2="490.44" y2="318.15" stroke="#111" stroke-width="1.0"/>
<line x1="490.44" y1="316.95" x2="490.44" y2="319.35" stroke="#111" stroke-width="1.2"/>
<rect x="356.50" y="316.20" width="94.26" height="3.90" fill="#fff" stroke="#222" stroke-width="0.9"/>
<line x1="450.76" y1="322.45" x2="474.35" y2="322.45" stroke="#111" stroke-width="1.0"/>
<line x1="474.35" y1="321.25" x2="474.35" y2="323.65" stroke="#111" stroke-width="1.2"/>
<rect x="356.50" y="320.15" width="94.26" height="4.60" fill="#232323"/>
<line x1="369.59" y1="330.44" x2="375.37" y2="330.44" stroke="#111" stroke-width="1.0"/>
<line x1="375.37" y1="329.24" x2="375.37" y2="331.64" stroke="#111" stroke-width="1.2"/>
<rect x="356.50" y="328.49" width="13.09" height="3.90" fill="#fff" stroke="#222" stroke-width="0.9"/>
<line x1="373.60" y1="334.74" x2="378.16" y2="334.74" stroke="#111" stroke-width="1.0"/>
<line x1="378.16" y1="333.54" x2="378.16" y2="335.94" stroke="#111" stroke-width="1.2"/>
<rect x="356.50" y="332.44" width="17.10" height="4.60" fill="#232323"/>
<line x1="413.32" y1="342.73" x2="433.51" y2="342.73" stroke="#111" stroke-width="1.0"/>
<line x1="433.51" y1="341.53" x2="433.51" y2="343.93" stroke="#111" stroke-width="1.2"/>
<rect x="356.50" y="340.78" width="56.82" height="3.90" fill="#fff" stroke="#222" stroke-width="0.9"/>
<line x1="406.12" y1="347.03" x2="418.24" y2="347.03" stroke="#111" stroke-width="1.0"/>
<line x1="418.24" y1="345.83" x2="418.24" y2="348.23" stroke="#111" stroke-width="1.2"/>
<rect x="356.50" y="344.73" width="49.62" height="4.60" fill="#232323"/>
<line x1="372.48" y1="355.02" x2="377.35" y2="355.02" stroke="#111" stroke-width="1.0"/>
<line x1="377.35" y1="353.82" x2="377.35" y2="356.22" stroke="#111" stroke-width="1.2"/>
<rect x="356.50" y="353.07" width="15.98" height="3.90" fill="#fff" stroke="#222" stroke-width="0.9"/>
<line x1="375.37" y1="359.32" x2="380.29" y2="359.32" stroke="#111" stroke-width="1.0"/>
<line x1="380.29" y1="358.12" x2="380.29" y2="360.52" stroke="#111" stroke-width="1.2"/>
<rect x="356.50" y="357.02" width="18.87" height="4.60" fill="#232323"/>
<line x1="386.84" y1="367.31" x2="397.54" y2="367.31" stroke="#111" stroke-width="1.0"/>
<line x1="397.54" y1="366.11" x2="397.54" y2="368.51" stroke="#111" stroke-width="1.2"/>
<rect x="356.50" y="365.36" width="30.34" height="3.90" fill="#fff" stroke="#222" stroke-width="0.9"/>
<line x1="398.96" y1="371.61" x2="409.01" y2="371.61" stroke="#111" stroke-width="1.0"/>
<line x1="409.01" y1="370.41" x2="409.01" y2="372.81" stroke="#111" stroke-width="1.2"/>
<rect x="356.50" y="369.31" width="42.46" height="4.60" fill="#232323"/>
<line x1="433.21" y1="379.60" x2="466.85" y2="379.60" stroke="#111" stroke-width="1.0"/>
<line x1="466.85" y1="378.40" x2="466.85" y2="380.80" stroke="#111" stroke-width="1.2"/>
<rect x="356.50" y="377.65" width="76.71" height="3.90" fill="#fff" stroke="#222" stroke-width="0.9"/>
<line x1="416.87" y1="383.90" x2="430.93" y2="383.90" stroke="#111" stroke-width="1.0"/>
<line x1="430.93" y1="382.70" x2="430.93" y2="385.10" stroke="#111" stroke-width="1.2"/>
<rect x="356.50" y="381.60" width="60.37" height="4.60" fill="#232323"/>
<line x1="391.76" y1="391.89" x2="408.15" y2="391.89" stroke="#111" stroke-width="1.0"/>
<line x1="408.15" y1="390.69" x2="408.15" y2="393.09" stroke="#111" stroke-width="1.2"/>
<rect x="356.50" y="389.94" width="35.26" height="3.90" fill="#fff" stroke="#222" stroke-width="0.9"/>
<line x1="389.17" y1="396.19" x2="392.47" y2="396.19" stroke="#111" stroke-width="1.0"/>
<line x1="392.47" y1="394.99" x2="392.47" y2="397.39" stroke="#111" stroke-width="1.2"/>
<rect x="356.50" y="393.89" width="32.67" height="4.60" fill="#232323"/>
<line x1="403.83" y1="404.18" x2="428.29" y2="404.18" stroke="#111" stroke-width="1.0"/>
<line x1="428.29" y1="402.98" x2="428.29" y2="405.38" stroke="#111" stroke-width="1.2"/>
<rect x="356.50" y="402.23" width="47.33" height="3.90" fill="#fff" stroke="#222" stroke-width="0.9"/>
<line x1="398.36" y1="408.48" x2="404.85" y2="408.48" stroke="#111" stroke-width="1.0"/>
<line x1="404.85" y1="407.28" x2="404.85" y2="409.68" stroke="#111" stroke-width="1.2"/>
<rect x="356.50" y="406.18" width="41.86" height="4.60" fill="#232323"/>
<line x1="384.25" y1="416.47" x2="394.04" y2="416.47" stroke="#111" stroke-width="1.0"/>
<line x1="394.04" y1="415.27" x2="394.04" y2="417.67" stroke="#111" stroke-width="1.2"/>
<rect x="356.50" y="414.52" width="27.75" height="3.90" fill="#fff" stroke="#222" stroke-width="0.9"/>
<line x1="388.56" y1="420.77" x2="394.04" y2="420.77" stroke="#111" stroke-width="1.0"/>
<line x1="394.04" y1="419.57" x2="394.04" y2="421.97" stroke="#111" stroke-width="1.2"/>
<rect x="356.50" y="418.47" width="32.06" height="4.60" fill="#232323"/>
<line x1="356.50" y1="197.00" x2="356.50" y2="426.40" stroke="#222" stroke-width="1.1"/>
<rect x="455.80" y="206.40" width="5.60" height="5.40" fill="#fff" stroke="#222" stroke-width="0.9"/>
<rect x="455.60" y="216.00" width="5.90" height="5.80" fill="#222"/>
<text x="467.1" y="212.0" font-size="7.9" font-weight="bold" text-anchor="start" fill="#262626" stroke="#262626">Naive</text>
<text x="467.1" y="221.6" font-size="7.9" font-weight="bold" text-anchor="start" fill="#262626" stroke="#262626">Memory</text>
<text x="479.1" y="305.9" font-size="8.6" font-weight="normal" text-anchor="start" fill="#262626" stroke="#262626"><tspan font-style="italic">P</tspan>&lt;.01</text>
<text x="228.3" y="192.3" font-size="9.2" font-weight="bold" text-anchor="middle" fill="#262626" stroke="#262626">Array</text>
<text x="304.6" y="192.4" font-size="9.2" font-weight="bold" text-anchor="middle" fill="#262626" stroke="#262626">RT-PCR</text>
<text x="434.8" y="193.0" font-size="9.2" font-weight="bold" text-anchor="middle" fill="#262626" stroke="#262626">H3K9-AC</text>
<text x="188.6" y="442.6" font-size="7.6" font-weight="bold" text-anchor="middle" fill="#262626" stroke="#262626">-1</text>
<text x="206.275" y="442.6" font-size="7.6" font-weight="bold" text-anchor="middle" fill="#262626" stroke="#262626">0</text>
<text x="223.95" y="442.6" font-size="7.6" font-weight="bold" text-anchor="middle" fill="#262626" stroke="#262626">1</text>
<text x="241.625" y="442.6" font-size="7.6" font-weight="bold" text-anchor="middle" fill="#262626" stroke="#262626">2</text>
<text x="259.3" y="442.6" font-size="7.6" font-weight="bold" text-anchor="middle" fill="#262626" stroke="#262626">3</text>
<text x="270.2" y="442.6" font-size="7.6" font-weight="bold" text-anchor="middle" fill="#262626" stroke="#262626">-1</text>
<text x="293.8666666666667" y="442.6" font-size="7.6" font-weight="bold" text-anchor="middle" fill="#262626" stroke="#262626">0</text>
<text x="319.1333333333333" y="442.6" font-size="7.6" font-weight="bold" text-anchor="middle" fill="#262626" stroke="#262626">1</text>
<text x="341.2" y="442.6" font-size="7.6" font-weight="bold" text-anchor="middle" fill="#262626" stroke="#262626">2</text>
<text x="356.5" y="441.9" font-size="7.8" font-weight="bold" text-anchor="middle" fill="#262626" stroke="#262626">0.00</text>
<text x="381.8666666666667" y="441.9" font-size="7.8" font-weight="bold" text-anchor="middle" fill="#262626" stroke="#262626">0.05</text>
<text x="407.23333333333335" y="441.9" font-size="7.8" font-weight="bold" text-anchor="middle" fill="#262626" stroke="#262626">0.10</text>
<text x="432.6" y="441.9" font-size="7.8" font-weight="bold" text-anchor="middle" fill="#262626" stroke="#262626">0.15</text>
<text x="457.9666666666667" y="441.9" font-size="7.8" font-weight="bold" text-anchor="middle" fill="#262626" stroke="#262626">0.20</text>
<text x="483.3333333333333" y="441.9" font-size="7.8" font-weight="bold" text-anchor="middle" fill="#262626" stroke="#262626">0.25</text>
<text x="508.70000000000005" y="441.9" font-size="7.8" font-weight="bold" text-anchor="middle" fill="#262626" stroke="#262626">0.30</text>
<text x="265.0" y="458.9" font-size="9.5" font-weight="bold" text-anchor="middle" fill="#262626" stroke="#262626">Relative Level of Activated</text>
<text x="265.0" y="469.8" font-size="9.4" font-weight="bold" text-anchor="middle" fill="#262626" stroke="#262626">Memory vs. Activated Naive (log<tspan font-size="6.5" dy="2.5">10</tspan><tspan dy="-2.5">)</tspan></text>
<text x="430.0" y="458.2" font-size="9.4" font-weight="bold" text-anchor="middle" fill="#262626" stroke="#262626">Fraction of Input</text>
<text x="429.0" y="469.8" font-size="9.4" font-weight="bold" text-anchor="middle" fill="#262626" stroke="#262626">(mean and SEM)</text>
</g>
</svg>
</body></html>
